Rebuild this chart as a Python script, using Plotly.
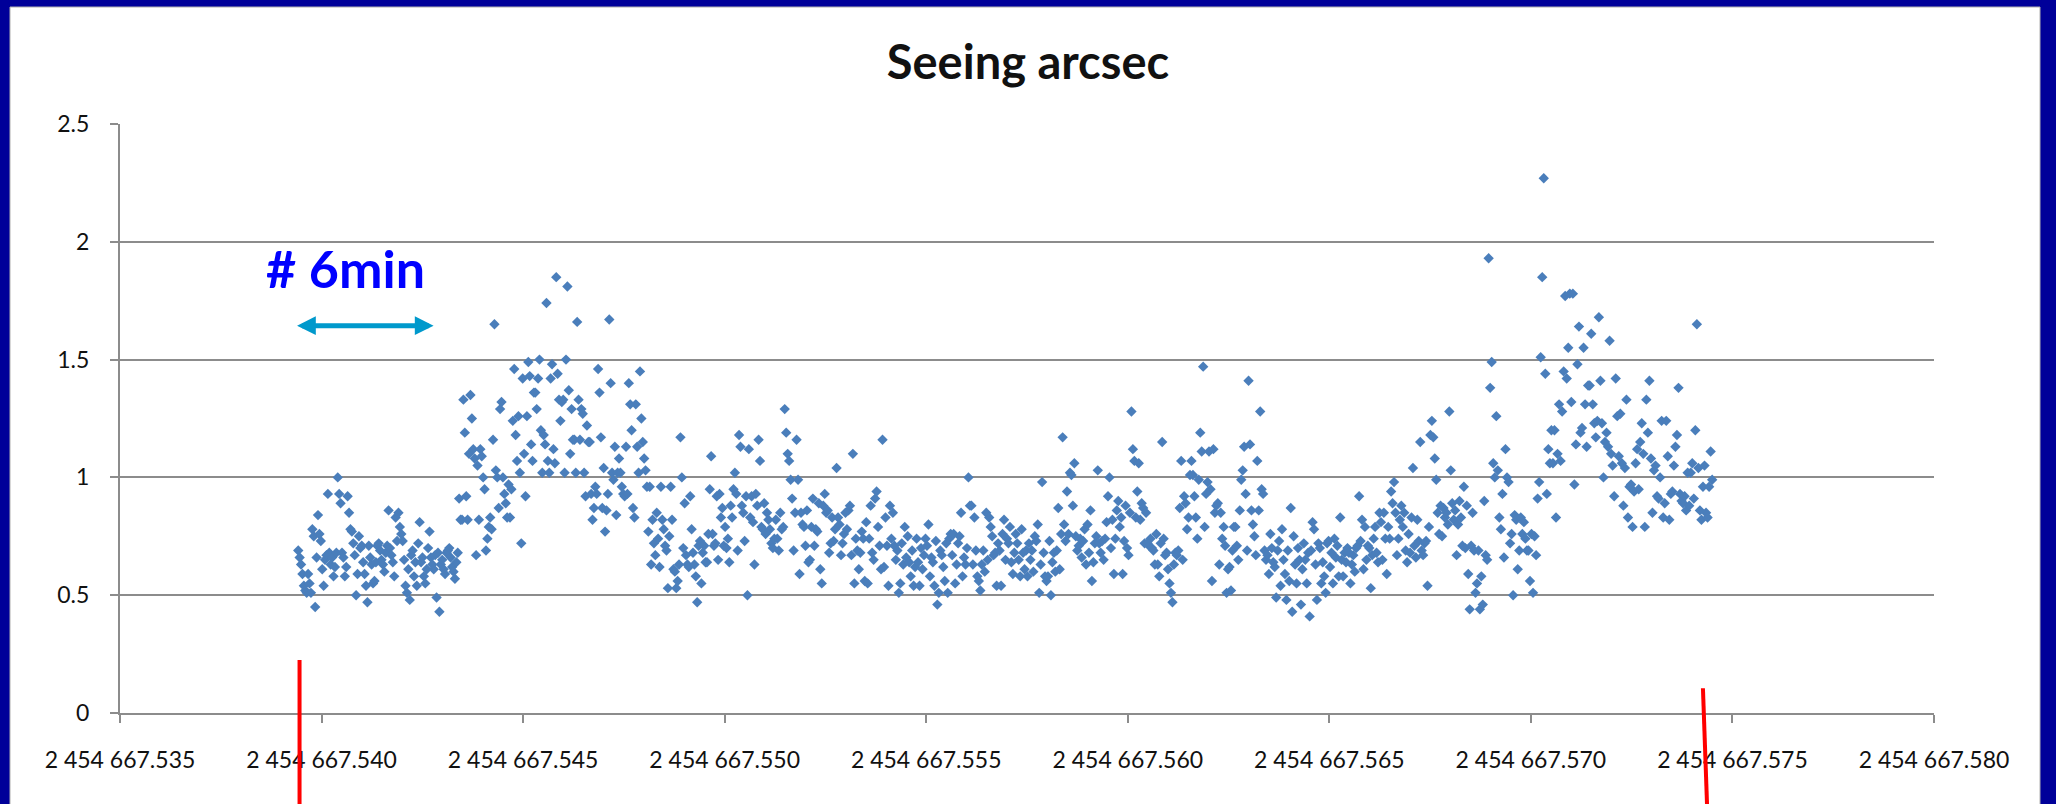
import numpy as np
import plotly.graph_objects as go

# Julian Date origin; times below are fractions of a day after it
JD0 = 2454667.0

# Seeing measurements, in arcsec, grouped in consecutive time blocks.
# block_edges gives the start/end time (day fraction) of each block;
# samples inside a block are evenly spaced in time.
block_edges = [0.539404, 0.545112, 0.551067, 0.557022, 0.562978, 0.568933, 0.574516]

seeing_1 = [
    0.69, 0.66, 0.63, 0.59, 0.54, 0.52, 0.51,
    0.59, 0.55, 0.51, 0.78, 0.75, 0.45, 0.66,
    0.84, 0.76, 0.73, 0.61, 0.54, 0.65, 0.67,
    0.93, 0.68, 0.63, 0.66, 0.58, 0.62, 0.68,
    1.00, 0.93, 0.89, 0.68, 0.66, 0.58, 0.62,
    0.92, 0.85, 0.78, 0.77, 0.72, 0.67, 0.50, 0.59,
    0.75, 0.70, 0.71, 0.64, 0.59, 0.54, 0.47,
    0.71, 0.66, 0.63, 0.55, 0.56, 0.64, 0.71,
    0.72, 0.69, 0.65, 0.63, 0.60, 0.68, 0.71,
    0.86, 0.70, 0.67, 0.64, 0.58, 0.83, 0.73,
    0.85, 0.79, 0.76, 0.73, 0.65, 0.54, 0.51, 0.61,
    0.48, 0.67, 0.69, 0.58, 0.64, 0.54, 0.72,
    0.81, 0.64, 0.66, 0.58, 0.55, 0.61, 0.70,
    0.77, 0.66, 0.63, 0.61, 0.67, 0.49, 0.68,
    0.43, 0.63, 0.65, 0.61, 0.59, 0.68, 0.69,
    0.70, 0.66, 0.62, 0.60, 0.57, 0.64, 0.68,
    0.91, 0.82, 0.82, 1.33, 1.19, 0.92, 0.82, 1.10,
    1.35, 1.25, 1.12, 1.08, 0.67, 1.05, 0.82,
    1.12, 1.09, 1.00, 0.95, 0.69, 0.74, 0.79, 0.83,
    0.78, 1.16, 1.65, 1.03, 1.00, 0.87,
    1.29, 1.32, 1.00, 0.93, 0.89, 0.83, 0.97,
    0.83, 0.95, 1.24, 1.46, 1.18, 1.07, 1.26,
    1.02, 0.72, 1.42, 1.10, 0.92, 1.26,
]

seeing_2 = [
    1.49, 1.43, 1.14, 1.07, 1.36,
    1.36, 1.29, 1.42, 1.50, 1.20, 1.02, 1.18, 1.14,
    1.74, 1.07, 1.02, 1.42, 1.48, 1.12, 1.06,
    1.85, 1.44, 1.33, 1.24, 1.32, 1.33, 1.02, 1.50,
    1.81, 1.37, 1.10, 1.29, 1.16, 1.16, 1.02,
    1.66, 1.33, 1.16, 1.29, 1.27, 1.02, 0.92, 1.22,
    1.15, 1.15, 0.93, 0.82, 0.87, 0.96, 0.93,
    1.46, 1.36, 1.17, 0.87, 1.04, 0.77, 0.86, 0.93,
    1.67, 1.40, 1.02, 0.99, 1.13, 0.84, 1.02,
    1.08, 1.02, 0.96, 0.93, 0.92, 1.13, 0.93,
    1.40, 1.31, 1.20, 0.87, 0.83, 1.31, 1.13, 1.02,
    1.45, 1.25, 1.15, 1.08, 1.03, 0.96, 0.77, 0.96,
    0.63, 0.82, 0.72, 0.67, 0.85, 0.74, 0.62,
    0.96, 0.82, 0.78, 0.71, 0.69, 0.53, 0.75,
    0.96, 0.82, 0.61, 0.60, 0.53, 0.56, 0.63,
    1.17, 1.00, 0.70, 0.89, 0.67, 0.63, 0.62,
    0.92, 0.78, 0.68, 0.63, 0.58, 0.47, 0.71,
    0.73, 0.55, 0.68, 0.71, 0.64, 0.64, 0.76,
    0.95, 1.09, 0.76, 0.71, 0.72, 0.92, 0.65,
    0.93, 0.83, 0.87, 0.71, 0.79, 0.70, 0.74,
    0.64, 0.88, 0.83, 0.95, 1.02, 0.93, 0.69,
    1.18, 1.13, 0.88, 0.85, 0.73, 0.92, 0.50,
    1.12, 0.83, 0.92, 0.81, 0.63, 0.93, 0.88,
    1.16, 1.07, 0.79, 0.78, 0.89, 0.76, 0.85,
]

seeing_3 = [
    0.82, 0.78, 0.72, 0.70, 0.74,
    0.82, 0.74, 0.69, 0.85, 0.78, 0.79,
    1.29, 1.19, 1.10, 1.07, 0.99, 0.91, 0.69, 0.85,
    1.16, 0.99, 0.59, 0.85, 0.80, 0.79, 0.71,
    0.86, 0.64, 0.65, 0.79, 0.91, 0.71, 0.78,
    0.77, 0.89, 0.61, 0.55, 0.88, 0.93, 0.85,
    0.86, 0.68, 0.72, 0.83, 0.73, 0.78,
    1.04, 0.83, 0.80, 0.67, 0.72, 0.76, 0.85,
    0.78, 0.86, 0.88, 0.67, 1.10, 0.55, 0.74,
    0.69, 0.61, 0.68, 0.77, 0.74, 0.56,
    0.81, 0.55, 0.74, 0.88, 0.68, 0.65, 0.91,
    0.94, 0.79, 0.71, 0.61, 1.16, 0.62, 0.83,
    0.71, 0.54, 0.88, 0.74, 0.85, 0.71, 0.65,
    0.69, 0.51, 0.55, 0.72, 0.63, 0.79, 0.66,
    0.75, 0.64, 0.58, 0.69, 0.54, 0.62, 0.74,
    0.64, 0.54, 0.70, 0.61, 0.67, 0.74,
    0.71, 0.80, 0.58, 0.66, 0.64, 0.54, 0.73,
    0.46, 0.51, 0.69, 0.67, 0.62, 0.56, 0.72,
    0.51, 0.74, 0.76, 0.67, 0.76, 0.55, 0.63,
    0.72, 0.75, 0.85, 0.58, 0.66, 0.63, 0.70,
    1.00, 0.88, 0.88, 0.63, 0.83, 0.69, 0.58,
    0.56, 0.52, 0.63, 0.69, 0.60, 0.85, 0.65,
    0.83, 0.79, 0.75, 0.67, 0.68, 0.54, 0.72,
    0.69, 0.54, 0.76, 0.82, 0.65, 0.74,
]

seeing_4 = [
    0.72, 0.79, 0.64, 0.59, 0.68,
    0.76, 0.72, 0.65, 0.58, 0.78, 0.68, 0.61,
    0.69, 0.58, 0.72, 0.65, 0.69, 0.60, 0.75,
    0.73, 0.80, 0.51, 0.63, 0.98, 0.68, 0.58,
    0.56, 0.58, 0.73, 0.50, 0.64, 0.68, 0.60,
    0.69, 0.87, 0.61, 0.76, 1.17, 0.80, 0.73,
    0.94, 0.76, 1.02, 1.01, 0.88, 1.06, 0.75,
    0.69, 0.71, 0.74, 0.66, 0.73, 0.78, 0.63,
    0.80, 0.68, 0.86, 0.56, 0.64, 0.72, 0.75,
    1.03, 0.72, 0.68, 0.73, 0.65, 0.74,
    0.81, 0.92, 1.00, 0.70, 0.82, 0.59, 0.74,
    0.86, 0.90, 0.79, 0.83, 0.59, 0.73, 0.88,
    0.70, 0.67, 0.85, 1.28, 1.12, 1.07, 0.83,
    0.94, 1.06, 0.82, 0.89, 0.87, 0.72, 0.85,
    0.72, 0.71, 0.74, 0.70, 0.69, 0.63, 0.76,
    0.63, 0.58, 0.72, 1.15, 0.74, 0.67, 0.68,
    0.61, 0.55, 0.51, 0.47, 0.63, 0.68, 0.67,
    0.69, 0.87, 1.07, 0.65, 0.92, 0.89, 0.78,
    0.83, 1.01, 1.07, 1.01, 0.92, 0.83, 0.74,
    0.99, 1.19, 1.11, 1.47, 0.79, 0.93, 0.98,
    1.11, 0.95, 0.56, 1.12, 0.85, 0.88, 0.89,
    0.63, 0.85, 0.74, 0.79, 0.71, 0.51, 0.61,
    0.62, 0.52, 0.69, 0.79, 0.79, 0.71, 0.65,
    0.86, 0.99, 1.03, 1.13, 0.93, 0.69,
]

seeing_5 = [
    1.41, 1.14, 0.86, 0.80, 0.75, 0.67, 1.07, 0.86,
    1.28, 0.95, 0.93, 0.69, 0.65, 0.67, 0.59,
    0.76, 0.70, 0.64, 0.62, 0.49, 0.69, 0.73,
    0.54, 0.78, 0.65, 0.59, 0.48, 0.69, 0.56,
    0.87, 0.43, 0.75, 0.63, 0.55, 0.70, 0.65,
    0.46, 0.61, 0.72, 0.65, 0.55, 0.68, 0.41,
    0.69, 0.81, 0.78, 0.63, 0.48, 0.72,
    0.70, 0.55, 0.64, 0.58, 0.51, 0.72, 0.73,
    0.62, 0.68, 0.55, 0.74, 0.66, 0.71, 0.58,
    0.83, 0.65, 0.58, 0.68, 0.64, 0.70,
    0.68, 0.55, 0.63, 0.67, 0.60, 0.70, 0.71,
    0.92, 0.73, 0.82, 0.61, 0.79, 0.65, 0.71,
    0.70, 0.53, 0.67, 0.74, 0.79, 0.68, 0.64,
    0.85, 0.81, 0.65, 0.85, 0.74, 0.59, 0.79,
    0.74, 0.94, 0.89, 0.98, 0.85, 0.67, 0.74,
    0.82, 0.88, 0.79, 0.85, 0.69, 0.64, 0.76,
    0.68, 0.83, 1.04, 0.71, 0.66, 0.82, 0.73,
    1.15, 0.69, 0.67, 0.72, 0.73, 0.54, 0.79,
    1.18, 1.24, 1.17, 1.08, 0.99, 0.85, 0.76,
    0.88, 0.75, 0.87, 0.83, 0.85, 0.80,
    1.28, 1.03, 0.89, 0.82, 0.86, 0.67, 0.80,
    0.90, 0.83, 0.71, 0.96, 0.70, 0.88, 0.59,
    0.44, 0.71, 0.85, 0.69, 0.51, 0.55, 0.69,
    0.44, 0.58, 0.46, 0.90, 0.67, 0.65,
]

seeing_6 = [
    1.93, 1.38, 1.49, 1.06, 1.00,
    1.26, 1.03, 0.83, 0.78, 0.93, 0.66, 1.12,
    1.00, 0.98, 0.72, 0.76, 0.50, 0.84, 0.82,
    0.61, 0.69, 0.83, 0.76, 0.81, 0.74, 0.69,
    0.69, 0.56, 0.76, 0.51, 0.75, 0.67, 0.91,
    0.98, 1.51, 1.85, 2.27, 1.44, 0.93, 1.12,
    1.06, 1.20, 1.06, 1.20, 0.83, 1.10,
    1.31, 1.07, 1.28, 1.45, 1.77, 1.42,
    1.55, 1.78, 1.32, 1.78, 0.97, 1.14, 1.48,
    1.64, 1.19, 1.21, 1.55, 1.31, 1.13, 1.39,
    1.39, 1.61, 1.31, 1.23, 1.17, 1.24,
    1.68, 1.41, 1.23, 1.00, 1.15, 1.19, 1.13,
    1.58, 1.10, 1.05, 0.92, 1.42, 1.26, 1.09,
    1.27, 1.06, 0.88, 1.04, 1.33, 0.83, 0.96,
    0.97, 0.79, 0.94, 1.06, 1.12, 0.95, 1.15,
    1.23, 1.10, 0.79, 1.33, 1.19, 1.41, 1.08,
    0.85, 1.03, 1.05, 0.92, 0.91, 1.00,
    1.24, 0.83, 0.89, 1.24, 1.09, 0.82, 0.93,
    0.94, 1.05, 1.13, 1.18, 1.38, 0.93, 0.90,
    0.89, 0.92, 0.86, 1.02, 0.88, 1.02,
    1.06, 0.91, 1.20, 1.65, 1.04, 0.86,
    0.82, 0.96, 1.05, 0.85, 0.83, 0.96,
    1.11, 0.99,
]

blocks = [seeing_1, seeing_2, seeing_3, seeing_4, seeing_5, seeing_6]

# Axis settings (time axis in JD)
t_min, t_max, t_step = 0.535, 0.580, 0.005
y_min, y_max, y_step = 0.0, 2.5, 0.5

# Time stamps: evenly spaced samples inside each block
times, values = [], []
for (t0, t1), vals in zip(zip(block_edges[:-1], block_edges[1:]), blocks):
    n = len(vals)
    dt = (t1 - t0) / n
    times.extend(JD0 + t0 + (np.arange(n) + 0.5) * dt)
    values.extend(vals)

# Annotation positions
label_6min = (0.540596, 1.89)
arrow_span = (0.539355, 0.542779, 1.644)
# hand-drawn start/end markers: (time at top, time at bottom, top in paper units)
marker_lines = [(0.539454, 0.539454, 0.09), (0.574268, 0.574392, 0.042)]

W, H = 2056, 804
ML, MR, MT, MB = 120, 122, 124, 91
plot_w, plot_h = W - ML - MR, H - MT - MB


def px_x(px):
    return (px - ML) / plot_w


def px_y(py):
    return (H - MB - py) / plot_h


def t_paper(t):
    return (t - t_min) / (t_max - t_min)


fig = go.Figure()
fig.add_trace(go.Scatter(
    x=times, y=values, mode="markers",
    marker=dict(symbol="diamond", size=8, color="#4A7EBB", line=dict(width=0)),
    showlegend=False, hoverinfo="skip",
))

grey = "#8c8c8c"
fig.update_layout(
    width=W, height=H,
    margin=dict(l=ML, r=MR, t=MT, b=MB, pad=0, autoexpand=False),
    paper_bgcolor="#000099",
    plot_bgcolor="white",
    separators=". ",
    font=dict(family="Lato, 'Open Sans', sans-serif", size=23, color="#111111"),
    title=dict(
        text="<b>Seeing arcsec</b>", x=0.5, xref="container", xanchor="center",
        y=1 - 63 / H, yref="container", yanchor="middle",
        font=dict(family="Lato, sans-serif", size=47, color="#111111"),
    ),
    xaxis=dict(
        range=[JD0 + t_min, JD0 + t_max], tick0=JD0 + t_min, dtick=t_step,
        tickformat=",.3f", showgrid=False, zeroline=False,
        showline=True, linecolor=grey, linewidth=2,
        ticks="outside", ticklen=8, tickwidth=2, tickcolor=grey,
        ticklabelstandoff=17,
    ),
    yaxis=dict(
        range=[y_min, y_max], tick0=0, dtick=y_step,
        showgrid=True, gridcolor=grey, gridwidth=2, zeroline=False,
        showline=True, linecolor=grey, linewidth=2,
        ticks="outside", ticklen=8, tickwidth=2, tickcolor=grey,
        ticklabelstandoff=16,
    ),
    shapes=[
        # white chart area inside the dark blue frame
        dict(type="rect", xref="paper", yref="paper", layer="below",
             x0=px_x(10), x1=px_x(2040), y0=px_y(830), y1=px_y(7),
             fillcolor="white", line=dict(color="#b0b0b0", width=1)),
    ] + [
        dict(type="line", xref="paper", yref="paper",
             x0=t_paper(xa), x1=t_paper(xb), y0=ytop, y1=px_y(830),
             line=dict(color="#ff0000", width=4))
        for xa, xb, ytop in marker_lines
    ],
    annotations=[
        dict(x=JD0 + label_6min[0], y=label_6min[1], xref="x", yref="y",
             text="<b># 6min</b>", showarrow=False,
             font=dict(family="Lato, sans-serif", size=52, color="#0000ff")),
        dict(x=JD0 + arrow_span[1], y=arrow_span[2], ax=JD0 + arrow_span[0], ay=arrow_span[2],
             xref="x", yref="y", axref="x", ayref="y", text="", showarrow=True,
             arrowside="end+start", arrowhead=2, startarrowhead=2,
             arrowsize=0.75, startarrowsize=0.75, arrowwidth=5, arrowcolor="#0099cc"),
    ],
)

fig.write_html("out.html")
